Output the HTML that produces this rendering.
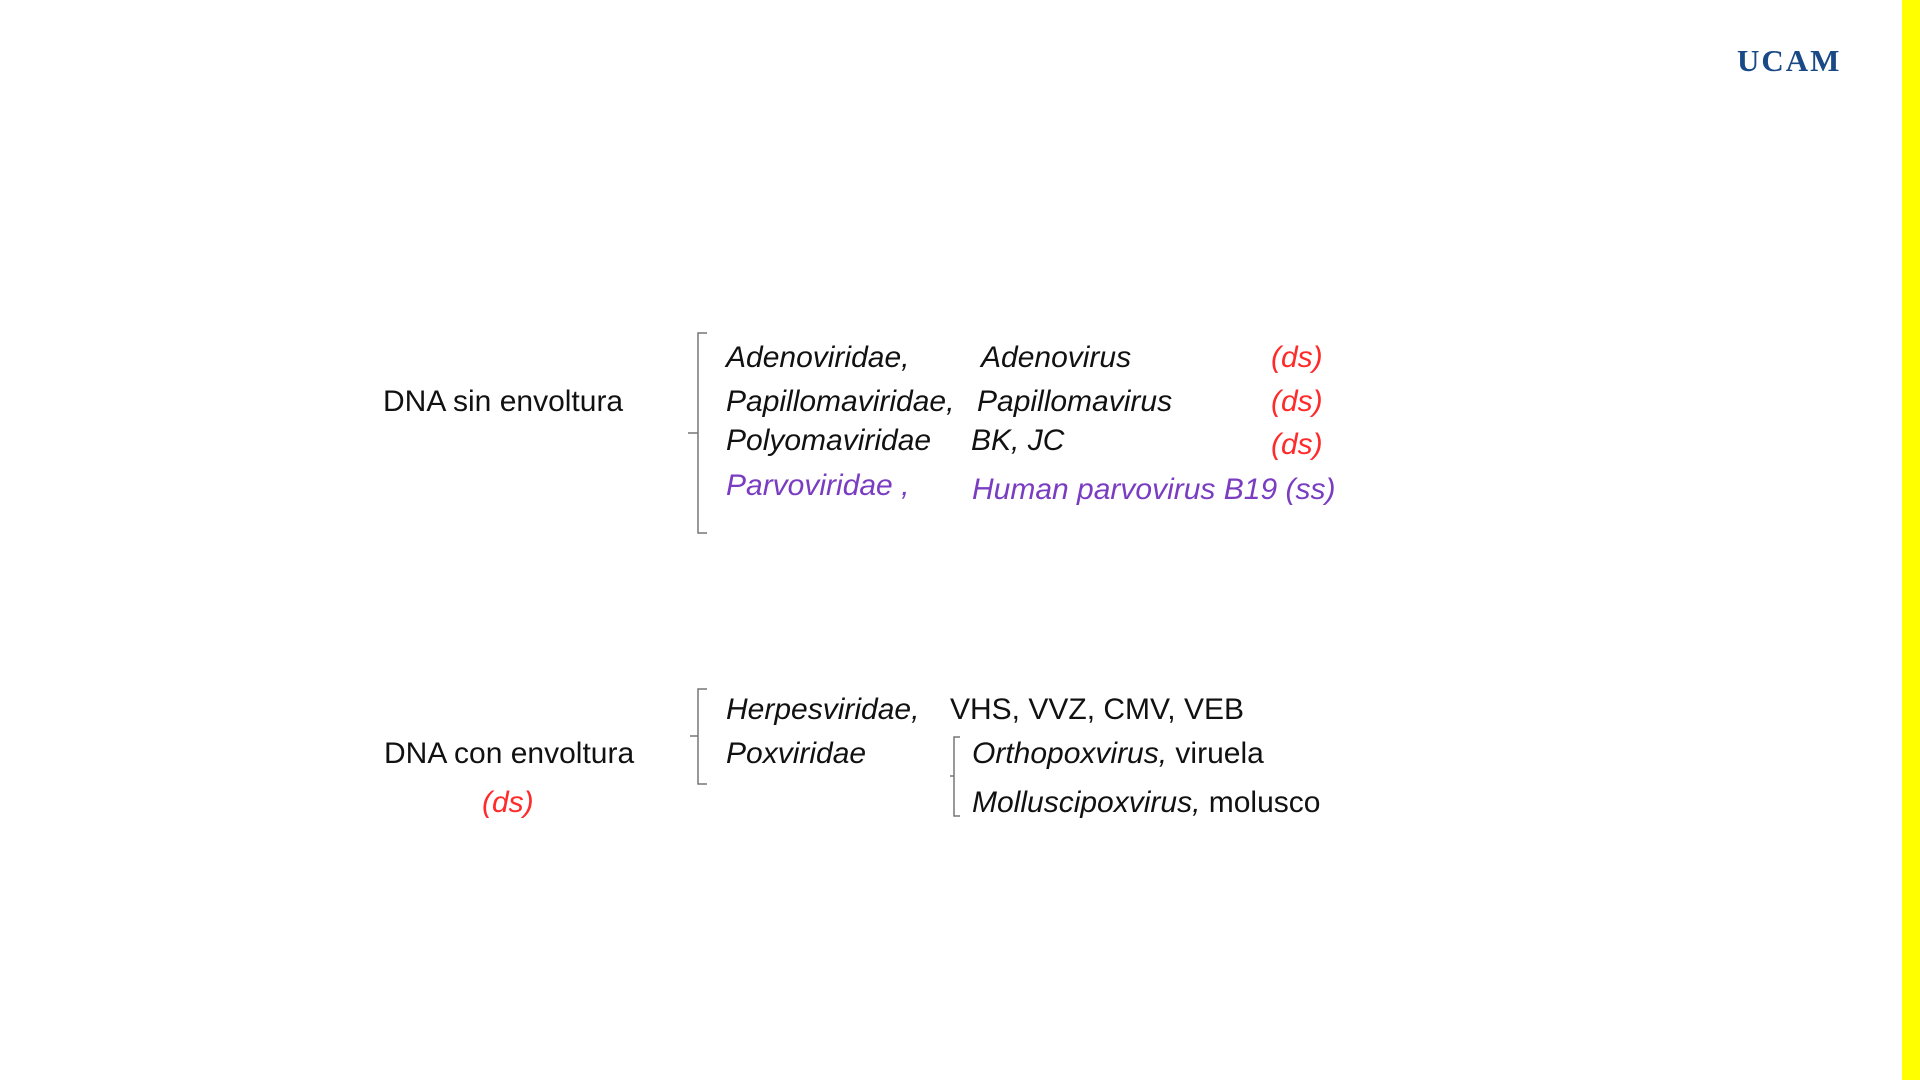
<!DOCTYPE html>
<html><head><meta charset="utf-8"><style>
body{margin:0;width:1920px;height:1080px;background:#fff;position:relative;overflow:hidden;font-family:"Liberation Sans",Arial,sans-serif;}
.t{position:absolute;font-size:30px;line-height:30px;white-space:nowrap;color:#111;}
.i{font-style:italic}
.r{color:#ff2a2a}
.p{color:#7a3cc0}
</style></head><body>
<div style="position:absolute;left:1902px;top:0;width:18px;height:1080px;background:#ffff00"></div>
<div style="position:absolute;left:1737px;top:43px;font-family:'Liberation Serif',serif;font-weight:bold;font-size:31px;color:#1a4a85;letter-spacing:2px">UCAM</div>

<svg style="position:absolute;left:0;top:0" width="1920" height="1080">
<g stroke="#777" stroke-width="1.5" fill="none">
<path d="M707 333 H698 V533 H707 M698 433 H688"/>
<path d="M707 689 H698 V784 H707 M698 736 H690"/>
<path d="M960 737 H954 V816 H960 M954 776 H950"/>
</g></svg>

<div class="t" style="left:383px;top:387px">DNA sin envoltura</div>
<div class="t i" style="left:726px;top:343px">Adenoviridae,</div>
<div class="t i" style="left:981px;top:343px">Adenovirus</div>
<div class="t i r" style="left:1271px;top:343px">(ds)</div>
<div class="t i" style="left:726px;top:387px">Papillomaviridae,</div>
<div class="t i" style="left:977px;top:387px">Papillomavirus</div>
<div class="t i r" style="left:1271px;top:387px">(ds)</div>
<div class="t i" style="left:726px;top:426px">Polyomaviridae</div>
<div class="t i" style="left:971px;top:426px">BK, JC</div>
<div class="t i r" style="left:1271px;top:430px">(ds)</div>
<div class="t i p" style="left:726px;top:471px">Parvoviridae ,</div>
<div class="t i p" style="left:972px;top:475px">Human parvovirus B19 (ss)</div>

<div class="t" style="left:384px;top:739px">DNA con envoltura</div>
<div class="t i r" style="left:482px;top:788px">(ds)</div>
<div class="t i" style="left:726px;top:695px">Herpesviridae,</div>
<div class="t" style="left:950px;top:695px">VHS, VVZ, CMV, VEB</div>
<div class="t i" style="left:726px;top:739px">Poxviridae</div>
<div class="t" style="left:972px;top:739px"><i>Orthopoxvirus,</i> viruela</div>
<div class="t" style="left:972px;top:788px"><i>Molluscipoxvirus,</i> molusco</div>
</body></html>
